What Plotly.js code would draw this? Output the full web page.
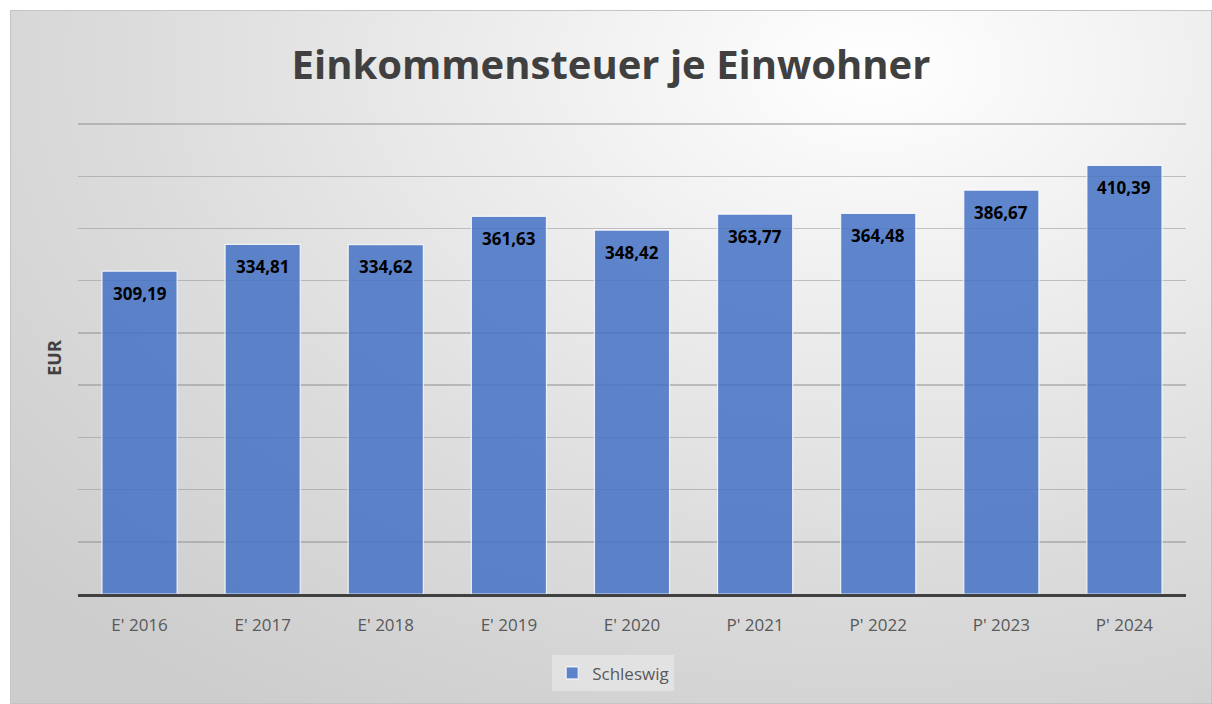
<!DOCTYPE html>
<html><head><meta charset="utf-8">
<script src="https://cdn.plot.ly/plotly-3.0.1.min.js"></script>
<style>
html,body{margin:0;padding:0;background:#fff;width:1212px;height:704px;overflow:hidden;}
#wrap{position:absolute;left:10px;top:10px;width:1200px;height:692px;border:1px solid #c4c4c4;
background:radial-gradient(ellipse 95% 110% at 72% 8%, #ffffff 0%, #ececec 35%, #dcdcdc 65%, #cdcdcd 100%);}
#chart{width:1200px;height:692px;}
</style></head>
<body><div id="wrap"><div id="chart"></div></div>
<script>
const categories = ["E' 2016","E' 2017","E' 2018","E' 2019","E' 2020","P' 2021","P' 2022","P' 2023","P' 2024"];
const values = [309.19,334.81,334.62,361.63,348.42,363.77,364.48,386.67,410.39];
const seriesName = "Schleswig";
const labels = values.map(v => v.toFixed(2).replace('.', ','));
const gridVals = [50,100,150,200,250,300,350,400,450];

const trace = {
  type:'bar', x:categories, y:values, name:seriesName,
  marker:{color:'rgba(68,114,196,0.85)', line:{color:'rgba(255,255,255,0.8)', width:1.2}},
  hoverinfo:'none'
};
const annotations = categories.map((c,i) => ({
  x:c, y:values[i], xref:'x', yref:'y', text:labels[i], showarrow:false,
  yanchor:'middle', yshift:-22,
  font:{family:'"Open Sans", sans-serif', size:17, color:'#000', weight:'bold'}
}));
const layout = {
  width:1200, height:692,
  paper_bgcolor:'rgba(0,0,0,0)', plot_bgcolor:'rgba(0,0,0,0)',
  margin:{l:67, r:25, t:111, b:104},
  title:{text:'Einkommensteuer je Einwohner', x:0.5, xanchor:'center', y:0.922, yanchor:'middle',
    font:{family:'"Open Sans", sans-serif', size:40, color:'#404040', weight:'bold'}},
  bargap:0.39,
  annotations:annotations,
  xaxis:{showline:true, linecolor:'#404040', linewidth:3, ticklabelstandoff:14,
    tickfont:{family:'"Open Sans", sans-serif', size:17, color:'#595959'},
    ticks:'', showgrid:false, zeroline:false, fixedrange:true},
  yaxis:{range:[0,452], tickvals:gridVals, showticklabels:false, showgrid:true,
    gridcolor:'rgba(150,150,150,0.55)', gridwidth:1.5,
    zeroline:false, showline:false, ticks:'',
    title:{text:'EUR', standoff:10, font:{family:'"Open Sans", sans-serif', size:18, color:'#404040', weight:'bold'}}},
  showlegend:true,
  legend:{orientation:'h', x:0.483, xanchor:'center', y:-0.13, yanchor:'top', bgcolor:'rgba(235,235,235,0.6)',
    itemwidth:30, font:{family:'"Open Sans", sans-serif', size:17, color:'#595959'}}
};
Plotly.newPlot('chart',[trace],layout,{displayModeBar:false, staticPlot:true});
</script></body></html>
